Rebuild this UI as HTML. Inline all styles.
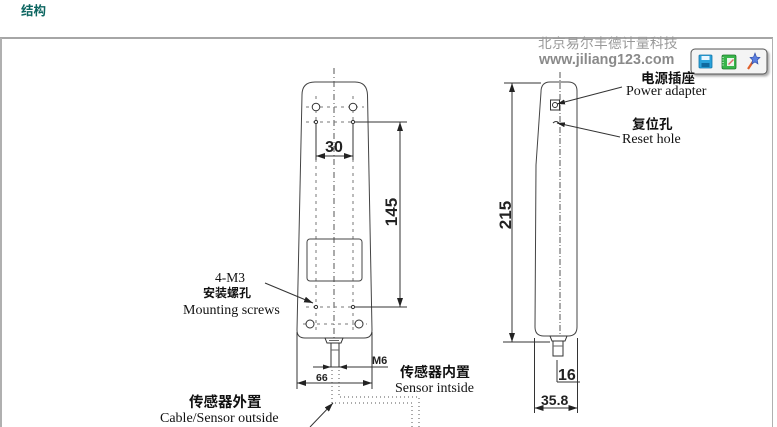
<!DOCTYPE html>
<html><head><meta charset="utf-8"><style>
html,body{margin:0;padding:0;background:#fff;}
body{width:777px;height:427px;overflow:hidden;position:relative;}
svg{position:absolute;left:0;top:0;}
</style></head><body>
<svg width="777" height="427" viewBox="0 0 777 427" xmlns="http://www.w3.org/2000/svg">
<defs>
<marker id="ar" markerWidth="9" markerHeight="6" refX="9" refY="3" orient="auto-start-reverse" markerUnits="userSpaceOnUse"><path d="M0,0 L9,3 L0,6 z" fill="#222"/></marker>
<marker id="ars" markerWidth="8" markerHeight="5" refX="8" refY="2.5" orient="auto" markerUnits="userSpaceOnUse"><path d="M0,0 L8,2.5 L0,5 z" fill="#222"/></marker>
<filter id="sh" x="-10%" y="-10%" width="130%" height="150%"><feDropShadow dx="2" dy="2" stdDeviation="1" flood-color="#888" flood-opacity="0.7"/></filter>
</defs>

<!-- heading -->
<text x="21" y="15" font-family="'Liberation Sans','Noto Sans CJK SC',sans-serif" font-size="12.5" font-weight="bold" fill="#0d6661">结构</text>

<!-- frame -->
<line x1="0" y1="38" x2="773" y2="38" stroke="#a6a6a6" stroke-width="2"/>
<line x1="1" y1="38" x2="1" y2="427" stroke="#b0b0b0" stroke-width="2"/>
<line x1="772.5" y1="38" x2="772.5" y2="427" stroke="#b0b0b0" stroke-width="1"/>

<!-- watermark -->
<text x="538" y="48" font-family="'Liberation Sans','Noto Sans CJK SC',sans-serif" font-size="13.7" fill="#999" letter-spacing="0.3">北京易尔丰德计量科技</text>
<text x="539" y="64" font-family="'Liberation Sans',sans-serif" font-size="14.3" font-weight="bold" fill="#8a8a8a">www.jiliang123.com</text>

<!-- toolbar -->
<rect x="691" y="49" width="76" height="25" rx="4" fill="#f4f4f4" stroke="#555" stroke-width="1" filter="url(#sh)"/>
<g>
 <rect x="699" y="55" width="13" height="13" rx="1" fill="#2aa3dc" stroke="#1576a8" stroke-width="0.8"/>
 <rect x="701.5" y="56" width="8" height="4" fill="#e8f6ff"/>
 <rect x="701.5" y="63" width="8" height="4" fill="#0f6aa0"/>
 <rect x="722" y="55" width="14" height="14" rx="1.5" fill="#38b54a" stroke="#1d7a2a" stroke-width="0.8"/>
 <rect x="727" y="58" width="7" height="8" fill="#e9f7ea"/>
 <path d="M728,64 L733,59 L734,60 L729,65 z" fill="#e06a6a"/>
 <line x1="723" y1="57" x2="723" y2="67" stroke="#fff" stroke-width="1" stroke-dasharray="1 1.5"/>
 <line x1="748" y1="69" x2="754" y2="60" stroke="#e0602a" stroke-width="2.2"/>
 <path d="M755,53 L756.5,57 L760,57.5 L757.3,60 L758,64 L755,62 L751.8,64 L752.5,60 L750,57.5 L753.5,57 z" fill="#5a7ee0" stroke="#2a47a0" stroke-width="0.6"/>
</g>

<g stroke="#333" stroke-width="1" fill="none">
<!-- FRONT VIEW body -->
<path d="M302,95 Q302,82 315,82 L355,82 Q367,82 367.5,95 L372,330 Q372,338 364,338 L305,338 Q297,338 297,330 Z" stroke="#444"/>
<!-- center line -->
<line x1="334" y1="68" x2="334" y2="362" stroke="#555" stroke-dasharray="6 3 1 3"/>
<!-- hole centerlines -->
<line x1="316" y1="96" x2="316" y2="332" stroke="#777" stroke-dasharray="3 4"/>
<line x1="353" y1="96" x2="353" y2="332" stroke="#777" stroke-dasharray="3 4"/>
<line x1="306" y1="107" x2="364" y2="107" stroke="#777" stroke-dasharray="3 4"/>
<line x1="306" y1="122" x2="364" y2="122" stroke="#777" stroke-dasharray="3 4"/>
<line x1="306" y1="307" x2="364" y2="307" stroke="#777" stroke-dasharray="3 4"/>
<line x1="303" y1="324" x2="367" y2="324" stroke="#777" stroke-dasharray="3 4"/>
<!-- holes -->
<circle cx="316" cy="107" r="3.8" fill="#fff"/>
<circle cx="353" cy="107" r="3.8" fill="#fff"/>
<circle cx="316" cy="122" r="1.6" fill="#fff"/>
<circle cx="353" cy="122" r="1.6" fill="#fff"/>
<circle cx="316" cy="307" r="1.6" fill="#fff"/>
<circle cx="353" cy="307" r="1.6" fill="#fff"/>
<circle cx="310" cy="324" r="4" fill="#fff"/>
<circle cx="359" cy="324" r="4" fill="#fff"/>
<!-- window -->
<rect x="307" y="239" width="55" height="42" rx="3" stroke="#444"/>
<!-- connector -->
<path d="M325,338 L343,338 L341,343 L327,343 Z" fill="#fff"/>
<line x1="329" y1="340.5" x2="339" y2="340.5" stroke="#666"/>
<rect x="331" y="343" width="8" height="24" fill="#fff"/>
<line x1="331" y1="350" x2="339" y2="350" stroke="#666"/>

<!-- dim 30 -->
<line x1="316" y1="124" x2="316" y2="160"/>
<line x1="353" y1="124" x2="353" y2="160"/>
<line x1="316" y1="156" x2="353" y2="156" marker-start="url(#ar)" marker-end="url(#ar)"/>
<!-- dim 145 -->
<line x1="355" y1="122" x2="407" y2="122"/>
<line x1="355" y1="307" x2="407" y2="307"/>
<line x1="400" y1="122" x2="400" y2="307" marker-start="url(#ar)" marker-end="url(#ar)"/>
<!-- dim M6 -->
<line x1="313" y1="367" x2="331" y2="367" marker-end="url(#ars)"/>
<line x1="388" y1="367" x2="339" y2="367" marker-end="url(#ars)"/>
<!-- dim 66 -->
<line x1="297" y1="332" x2="297" y2="389"/>
<line x1="372" y1="332" x2="372" y2="389"/>
<line x1="297" y1="383" x2="372" y2="383" marker-start="url(#ar)" marker-end="url(#ar)"/>
<!-- cable dotted -->
<path d="M332,370 V403 H412 V427" stroke="#555" stroke-dasharray="1 3"/>
<path d="M339,370 V397 H419 V427" stroke="#555" stroke-dasharray="1 3"/>
<!-- leaders front -->
<line x1="265" y1="283" x2="313" y2="303" marker-end="url(#ar)"/>
<line x1="310" y1="427" x2="333" y2="403" marker-end="url(#ar)"/>

<!-- SIDE VIEW body -->
<path d="M541,92 Q541,82 550,82 L568,82 Q577,82 577,91 L577,327 Q577,336 568,336 L544,336 Q535,336 535,327 L536,165 Z" stroke="#444"/>
<line x1="560" y1="72" x2="560" y2="346" stroke="#555" stroke-dasharray="6 2 1 2"/>
<rect x="550.5" y="100" width="9" height="10" fill="#fff"/>
<circle cx="555" cy="105" r="2.5"/>
<path d="M553,123 Q556,120 559,123" />
<!-- side connector -->
<path d="M550,336 L567,336 L565,341 L552,341 Z" fill="#fff"/>
<rect x="553" y="341" width="10" height="15" fill="#fff"/>
<line x1="553" y1="346" x2="563" y2="346" stroke="#666"/>
<!-- dim 215 -->
<line x1="504" y1="83" x2="541" y2="83"/>
<line x1="503" y1="342" x2="550" y2="342"/>
<line x1="512" y1="83" x2="512" y2="342" marker-start="url(#ar)" marker-end="url(#ar)"/>
<!-- dim 16 / 35.8 -->
<line x1="557" y1="360" x2="557" y2="382"/>
<line x1="557" y1="382" x2="580" y2="382"/>
<line x1="534.5" y1="338" x2="534.5" y2="413"/>
<line x1="577.5" y1="338" x2="577.5" y2="413"/>
<line x1="534.5" y1="408" x2="577.5" y2="408" marker-start="url(#ar)" marker-end="url(#ar)"/>
<!-- side leaders -->
<line x1="622" y1="87" x2="557" y2="104" marker-end="url(#ars)"/>
<line x1="620" y1="137" x2="557" y2="123" marker-end="url(#ars)"/>
</g>

<!-- dimension text -->
<g font-family="'Liberation Sans',sans-serif" font-weight="bold" fill="#222">
<text x="334" y="152" font-size="16" text-anchor="middle">30</text>
<text transform="translate(397,212) rotate(-90)" font-size="17" text-anchor="middle">145</text>
<text transform="translate(511,215) rotate(-90)" font-size="17" text-anchor="middle">215</text>
<text x="372" y="364" font-size="11">M6</text>
<text x="316" y="381" font-size="10.5">66</text>
<text x="558" y="380" font-size="16">16</text>
<text x="541" y="405" font-size="14">35.8</text>
</g>

<!-- labels -->
<g font-family="'Liberation Sans','Noto Sans CJK SC',sans-serif" font-weight="bold" fill="#111">
<text x="641" y="83" font-size="13.5">电源插座</text>
<text x="632" y="129" font-size="13.5">复位孔</text>
<text x="203" y="297" font-size="12">安装螺孔</text>
<text x="400" y="377" font-size="14">传感器内置</text>
<text x="189" y="407" font-size="14.5">传感器外置</text>
</g>
<g font-family="'Liberation Serif',serif" fill="#111" font-size="14">
<text x="626" y="95">Power adapter</text>
<text x="622" y="143">Reset hole</text>
<text x="215" y="282" font-size="13.5">4-M3</text>
<text x="183" y="314">Mounting screws</text>
<text x="395" y="392">Sensor intside</text>
<text x="160" y="422">Cable/Sensor outside</text>
</g>
</svg>
</body></html>
